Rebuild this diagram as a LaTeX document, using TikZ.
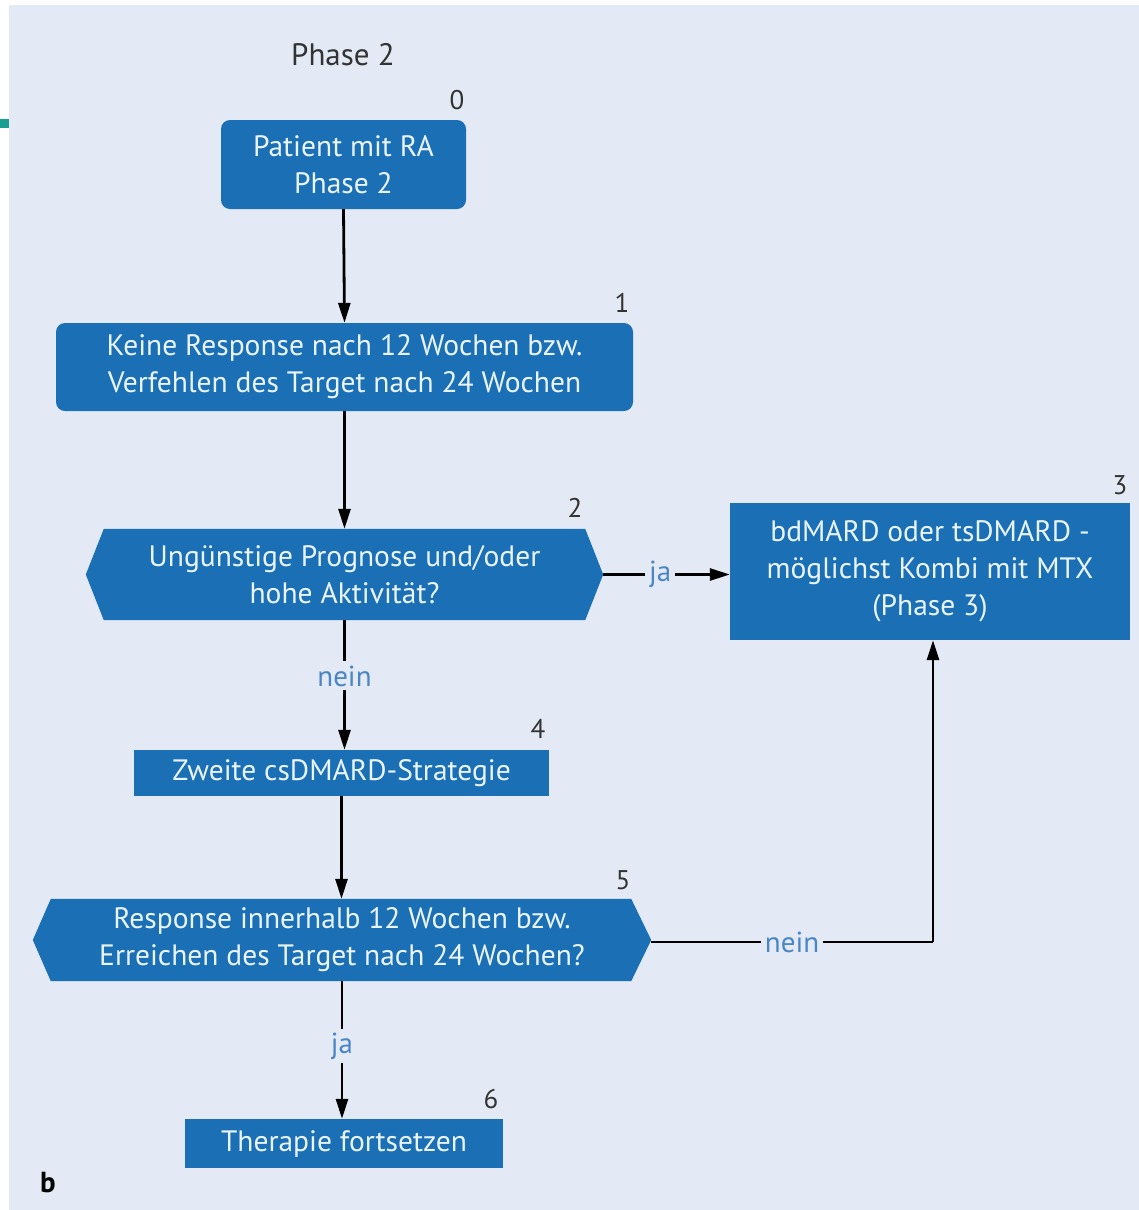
\documentclass[tikz,border=0pt]{standalone}
\usepackage{fontspec}
\setmainfont{PT Sans}
\usetikzlibrary{arrows.meta}
\definecolor{bg}{HTML}{E3EAF5}
\definecolor{boxblue}{HTML}{1A6FB5}
\definecolor{boxtext}{HTML}{EAF4FC}
\definecolor{lblblue}{HTML}{4A86C5}
\definecolor{numgray}{HTML}{333333}
\definecolor{teal}{HTML}{1A9E8F}
\begin{document}
\begin{tikzpicture}[x=1pt,y=-1pt,
  txt/.style={text=boxtext,font=\fontsize{29.5}{37}\selectfont,align=center,inner sep=0pt},
  boxr/.style={txt,fill=boxblue,rounded corners=9pt},
  boxs/.style={txt,fill=boxblue},
  hexbox/.style={txt},
  num/.style={text=numgray,font=\fontsize{27}{30}\selectfont,inner sep=0pt},
  lbl/.style={text=lblblue,font=\fontsize{29}{30}\selectfont,fill=bg,inner sep=4pt},
  conn/.style={line width=2.8pt,draw=black,-{Triangle[length=20pt,width=12pt]}},
  plain/.style={line width=2.8pt,draw=black}]
\useasboundingbox (0,0) rectangle (1139,1210);
\fill[white] (0,0) rectangle (1139,1210);
\fill[bg] (9,5) rectangle (1139,1210);
\fill[teal] (0,119) rectangle (9,128);

\node[text=numgray,font=\fontsize{31}{34}\selectfont] (title) at (343,55) {Phase 2};

\node[boxr,minimum width=245pt,minimum height=89pt] (n0) at (343.5,164.5) {Patient mit RA\\Phase 2};
\node[boxr,minimum width=577pt,minimum height=88pt] (n1) at (344.5,367) {Keine Response nach 12 Wochen bzw.\\Verfehlen des Target nach 24 Wochen};

\node[hexbox,minimum width=517pt,minimum height=91pt] (n2) at (344.5,574.5) {\phantom{X}};
\fill[boxblue] (n2.west) -- ([xshift=18pt]n2.north west) -- ([xshift=-18pt]n2.north east) -- (n2.east) -- ([xshift=-18pt]n2.south east) -- ([xshift=18pt]n2.south west) -- cycle;
\node[txt] (n2t) at (n2.center) {Ungünstige Prognose und/oder\\hohe Aktivität?};

\node[boxs,minimum width=400pt,minimum height=137pt] (n3) at (930,571.5) {bdMARD oder tsDMARD -\\möglichst Kombi mit MTX\\(Phase 3)};
\node[boxs,minimum width=415pt,minimum height=46pt] (n4) at (341.5,773) {Zweite csDMARD-Strategie};

\node[hexbox,minimum width=618pt,minimum height=82pt] (n5) at (342,940) {\phantom{X}};
\fill[boxblue] (n5.west) -- ([xshift=18pt]n5.north west) -- ([xshift=-20pt]n5.north east) -- (n5.east) -- ([xshift=-20pt]n5.south east) -- ([xshift=18pt]n5.south west) -- cycle;
\node[txt] (n5t) at (n5.center) {Response innerhalb 12 Wochen bzw.\\Erreichen des Target nach 24 Wochen?};

\node[boxs,minimum width=318pt,minimum height=49pt] (n6) at (344,1143.5) {Therapie fortsetzen};

\node[num] (k0) at (457,100) {0};
\node[num] (k1) at (622,303) {1};
\node[num] (k2) at (575,508) {2};
\node[num] (k3) at (1120,485) {3};
\node[num] (k4) at (538,729) {4};
\node[num] (k5) at (623,880) {5};
\node[num] (k6) at (491,1099) {6};

\node[font=\bfseries\fontsize{29}{32}\selectfont] (b) at (48,1183) {b};

\draw[conn] (n0.south) -- (n1.north);
\draw[conn] (n1.south) -- (n2.north);
\draw[conn] (n2.east) -- node[lbl,pos=0.45]{ja} (n3.west |- n2.east);
\draw[conn] (n2.south) -- node[lbl,pos=0.43]{nein} (n4.north -| n2.south);
\draw[conn] (n4.south) -- (n5.north -| n4.south);
\draw[conn] (n5.south) -- node[lbl,pos=0.47]{ja} (n6.north -| n5.south);
\coordinate (corner) at (933,942);
\draw[plain] (n5.east |- corner) -- node[lbl,pos=0.5]{nein} (corner);
\draw[conn] (corner) -- (corner |- n3.south);
\end{tikzpicture}
\end{document}
